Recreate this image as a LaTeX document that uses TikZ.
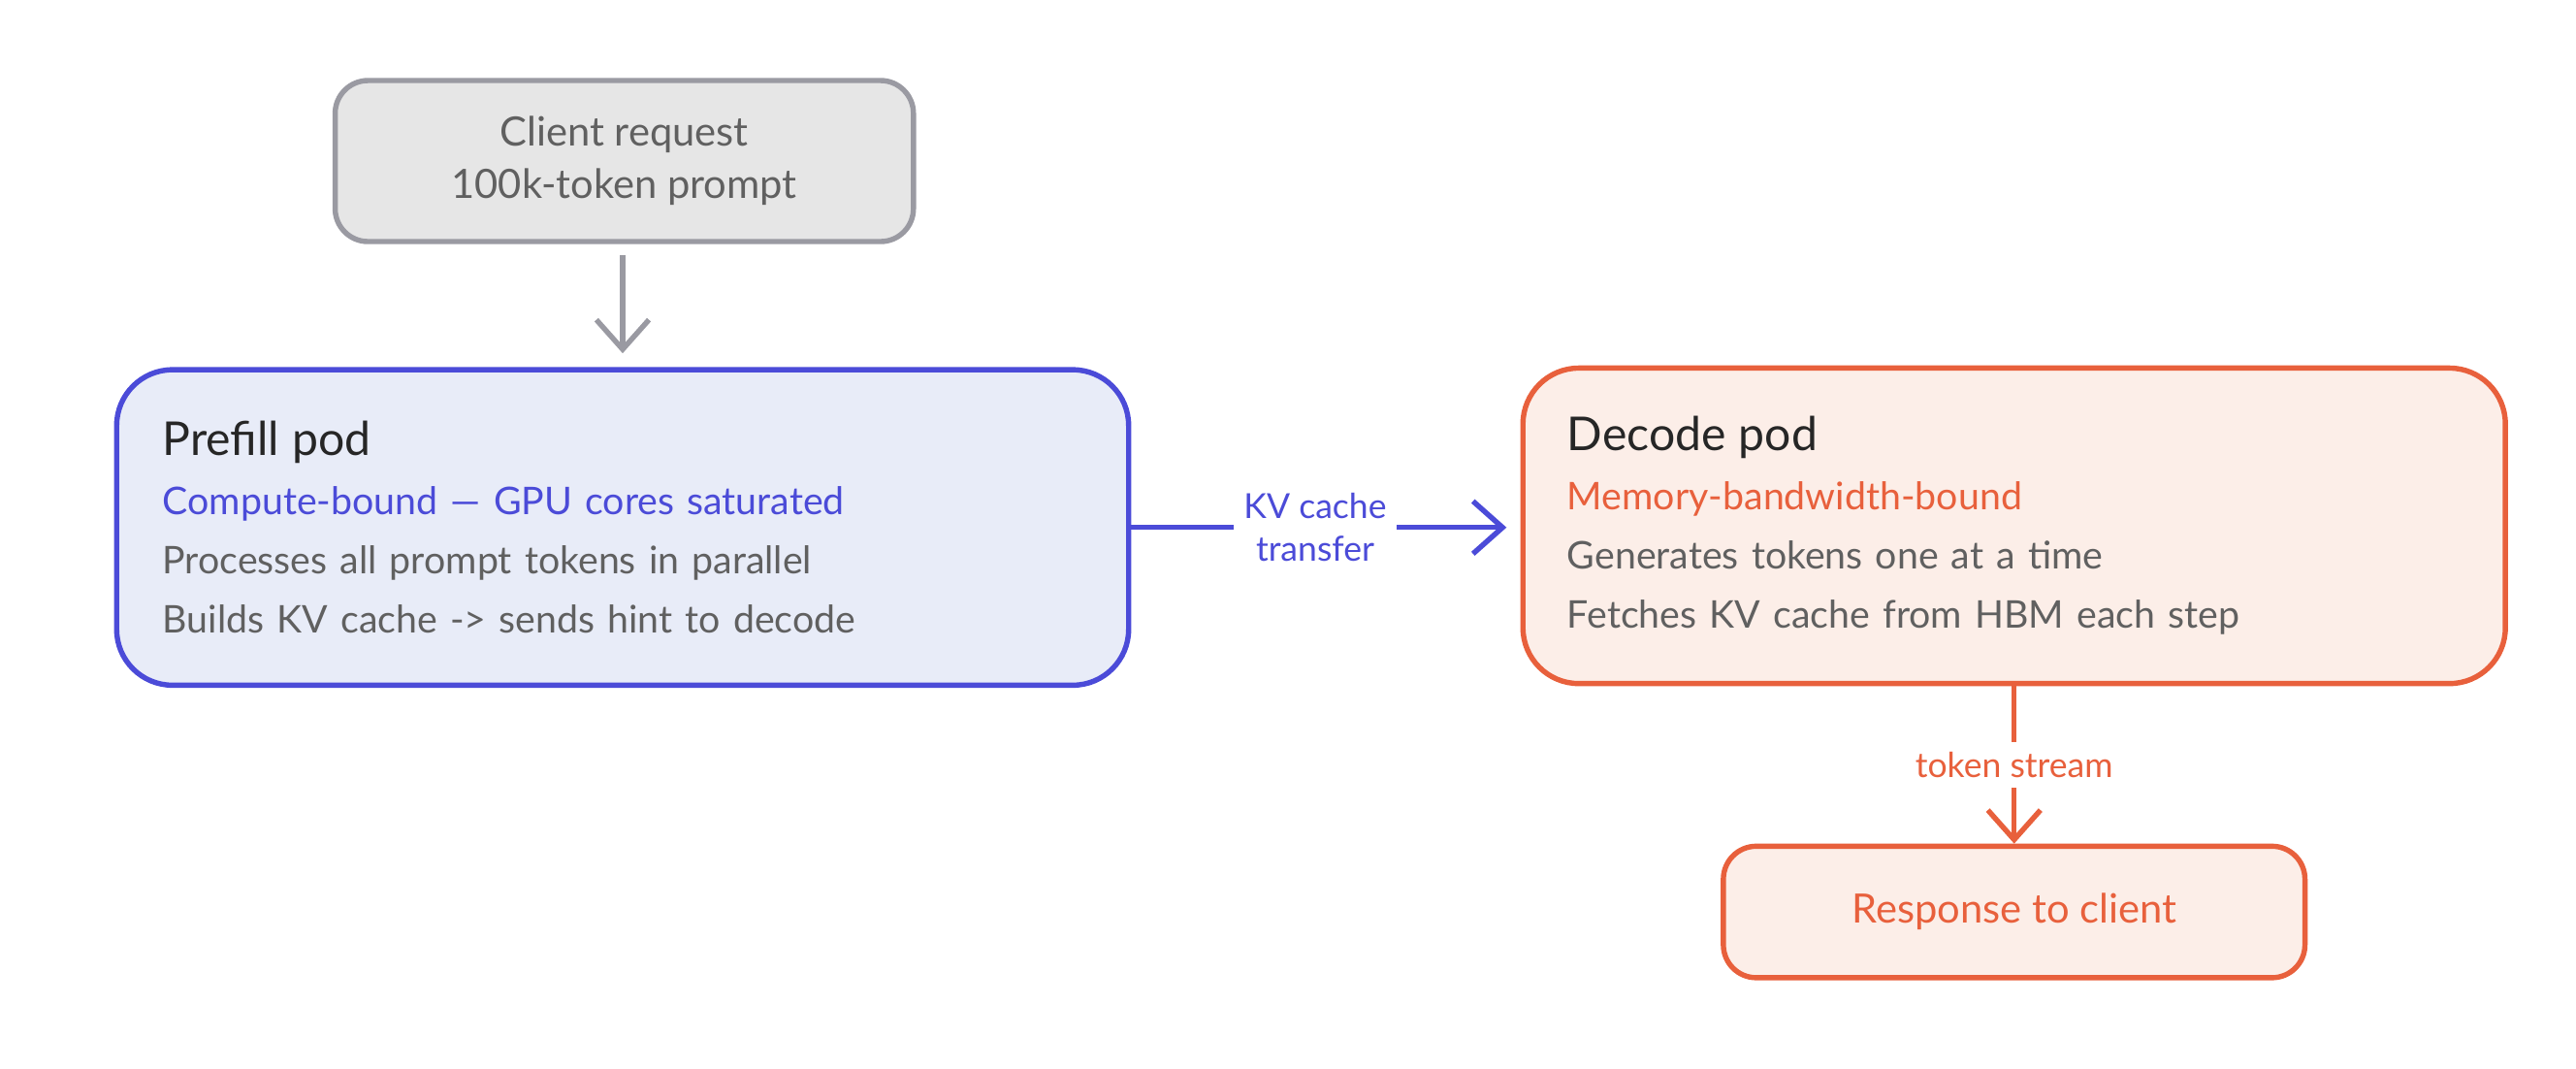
\documentclass[tikz,border=0pt]{standalone}
\usepackage{fontspec}
\setmainfont{Lato}
\usetikzlibrary{positioning,arrows.meta}
\definecolor{pfblue}{HTML}{4B4BD8}
\definecolor{pffill}{HTML}{E8ECF8}
\definecolor{dcred}{HTML}{E8603C}
\definecolor{dcfill}{HTML}{FCEEE8}
\definecolor{clgray}{HTML}{9A9AA2}
\definecolor{clfill}{HTML}{E6E6E6}
\definecolor{txgray}{HTML}{606060}
\tikzset{
  podbox/.style={draw, line width=1.6pt, rounded corners=17pt, text width=280pt,
    minimum height=96pt, inner xsep=13.5pt, align=left,
    font=\fontsize{11.6}{18}\selectfont, text=txgray},
  smallbox/.style={draw, line width=1.6pt, rounded corners=10pt, align=center,
    font=\fontsize{12.3}{16}\selectfont},
  link/.style={line width=1.6pt, -{Straight Barb[length=9pt,width=16pt,line width=1.6pt]}},
  tag/.style={fill=white, font=\fontsize{10.5}{13}\selectfont, align=center, inner sep=3pt}
}
\begin{document}
\begin{tikzpicture}[x=0.5pt,y=-0.5pt]
\useasboundingbox (0,0) rectangle (1568,650);
\node[smallbox, draw=clgray, fill=clfill, text=txgray, minimum width=176pt, minimum height=49pt]
  (client) at (380,98) {Client request\\100k-token prompt};
\node[podbox, draw=pfblue, fill=pffill, minimum width=308pt] (prefill) at (379,321)
  {{\fontsize{14.2}{18}\selectfont\color{black!85}Prefill pod}\\
   {\color{pfblue}Compute-bound — GPU cores saturated}\\
   Processes all prompt tokens in parallel\\
   Builds KV cache -> sends hint to decode};
\node[podbox, draw=dcred, fill=dcfill, minimum width=299pt, text width=272pt] (decode) at (1226,320)
  {{\fontsize{14.2}{18}\selectfont\color{black!85}Decode pod}\\
   {\color{dcred}Memory-bandwidth-bound}\\
   Generates tokens one at a time\\
   Fetches KV cache from HBM each step};
\node[smallbox, draw=dcred, fill=dcfill, text=dcred, minimum width=177pt, minimum height=40pt]
  (response) at (1226,555) {Response to client};
\coordinate (cltail) at (379,155);
\coordinate (pfhead) at (379,215);
\draw[link, clgray] (cltail) -- (pfhead);
\coordinate (kvhead) at (917,321);
\draw[link, pfblue] (prefill.east) -- (kvhead)
  node[tag, text=pfblue, pos=0.49] {KV cache\\transfer};
\draw[link, dcred] (decode.south) -- (response.north)
  node[tag, text=dcred, midway] {token stream};
\end{tikzpicture}
\end{document}
